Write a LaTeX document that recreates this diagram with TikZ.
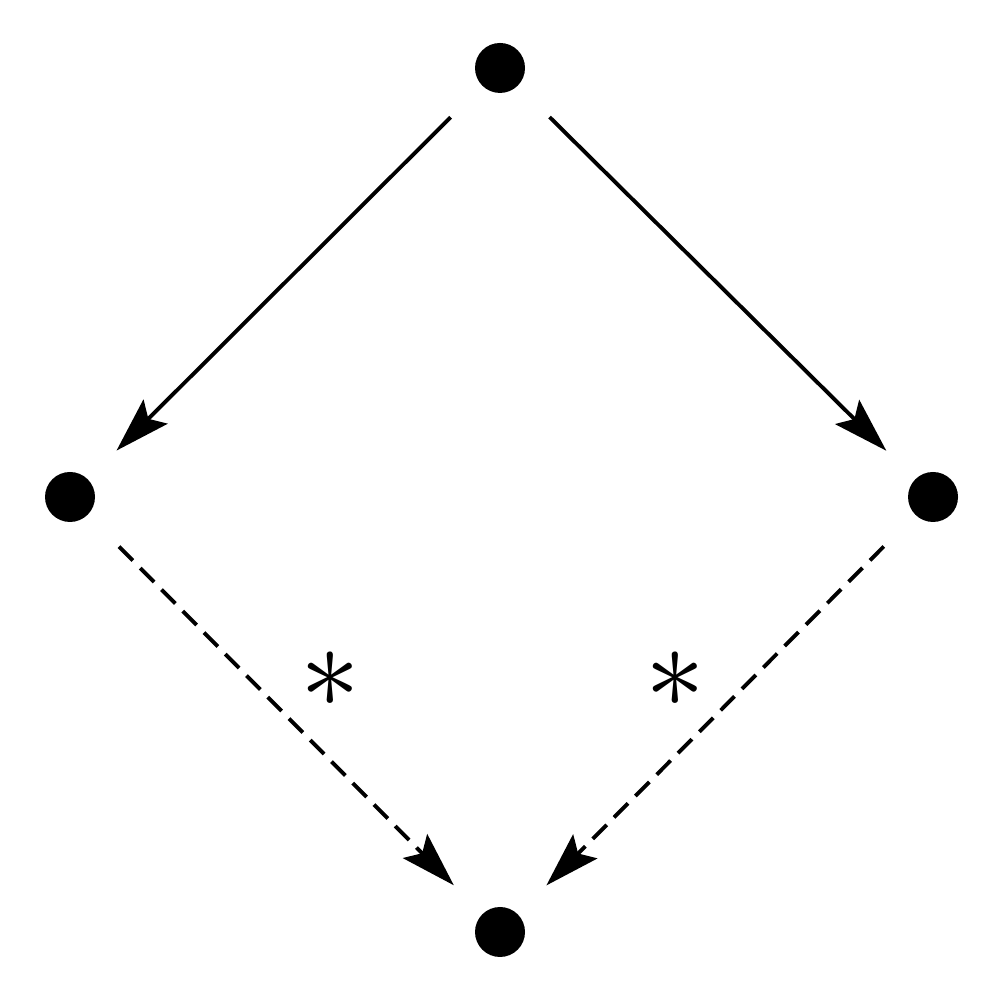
\documentclass[tikz,border=0pt]{standalone}
\usepackage{amsmath}
\usepackage{amssymb}
\usetikzlibrary{arrows.meta}

\begin{document}
\begin{tikzpicture}[dot/.style={circle,fill=black,minimum size=0.5cm,inner sep=0pt},
  arr/.style={-{Stealth[length=0.55cm,width=0.34cm,inset=0.1cm]},line width=1.1pt,shorten <=0.44cm,shorten >=0.4cm},
  dsh/.style={arr,dash pattern=on 5.6pt off 3pt}]
\useasboundingbox (0,0) rectangle (10,10);
\node[dot] (top) at (5,9.32) {};
\node[dot] (lft) at (0.7,5.03) {};
\node[dot] (rgt) at (9.33,5.03) {};
\node[dot] (bot) at (5,0.68) {};
\draw[arr](top)--(lft);
\draw[arr](top)--(rgt);
\draw[dsh](lft)--(bot);
\draw[dsh](rgt)--(bot);
\node (s1) at (3.3,3.2) [scale=3.4] {$\ast$};
\node (s2) at (6.75,3.2) [scale=3.4] {$\ast$};
\end{tikzpicture}
\end{document}
